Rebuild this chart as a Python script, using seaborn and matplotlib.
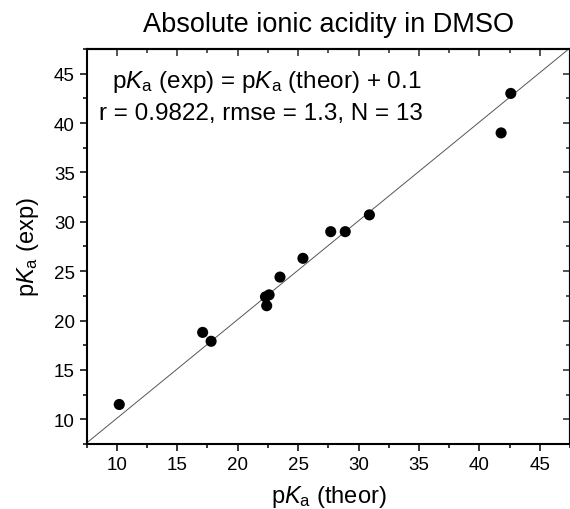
import numpy as np
import matplotlib
matplotlib.use("Agg")
import matplotlib.pyplot as plt
from matplotlib.ticker import MultipleLocator
import seaborn as sns

# pKa values
pka_theor = [10.2, 17.1, 17.8, 22.3, 22.6, 22.4, 23.5, 25.4, 27.7, 28.9, 30.9, 41.8, 42.6]
pka_exp = [11.5, 18.8, 17.9, 22.4, 22.6, 21.5, 24.4, 26.3, 29.0, 29.0, 30.7, 39.0, 43.0]

# fitted line: pKa(exp) = pKa(theor) + 0.1
fit_slope = 1.0
fit_intercept = 0.1

axis_lim = (7.5, 47.5)
major_ticks = [10, 15, 20, 25, 30, 35, 40, 45]

sns.set_theme(style="ticks")
plt.rcParams["font.family"] = ["Liberation Sans", "DejaVu Sans"]
plt.rcParams["mathtext.fontset"] = "custom"
plt.rcParams["mathtext.rm"] = "Liberation Sans"
plt.rcParams["mathtext.it"] = "Liberation Sans:italic"
plt.rcParams["text.color"] = "black"
plt.rcParams["axes.labelcolor"] = "black"

fig = plt.figure(figsize=(5.7, 5.1), dpi=100)
ax = fig.add_axes([0.152, 0.1275, 0.848, 0.7745])

# fit line across the whole frame
fx = np.array(axis_lim)
ax.plot(fx, fit_slope * fx + fit_intercept, color="#555555", lw=0.7, zorder=1)

sns.scatterplot(x=pka_theor, y=pka_exp, ax=ax, color="black", s=64,
                edgecolor="none", zorder=3)

ax.set_xlim(axis_lim)
ax.set_ylim(axis_lim)
ax.set_xticks(major_ticks)
ax.set_yticks(major_ticks)
ax.xaxis.set_minor_locator(MultipleLocator(2.5))
ax.yaxis.set_minor_locator(MultipleLocator(2.5))
ax.tick_params(which="major", direction="out", length=5, width=1.1,
               labelsize=13.5, colors="black", pad=3.5)
ax.tick_params(which="minor", direction="out", length=3, width=1.1, colors="black")

for sp in ax.spines.values():
    sp.set_linewidth(1.5)
    sp.set_color("black")
    sp.set_visible(True)

# mirrored ticks on top and right, pointing inward
top = ax.secondary_xaxis("top")
right = ax.secondary_yaxis("right")
for sec in (top, right):
    sec.set_ticks(major_ticks)
    sec.tick_params(which="major", direction="in", length=5, width=1.1, labelsize=0)
    sec.tick_params(which="minor", direction="in", length=3, width=1.1)
top.xaxis.set_minor_locator(MultipleLocator(2.5))
right.yaxis.set_minor_locator(MultipleLocator(2.5))
top.set_xticklabels([])
right.set_yticklabels([])
top.spines["top"].set_linewidth(1.5)
right.spines["right"].set_linewidth(1.5)

ax.set_xlabel(r"p$\mathit{K}_\mathrm{a}$ (theor)", fontsize=17, labelpad=7)
ax.set_ylabel(r"p$\mathit{K}_\mathrm{a}$ (exp)", fontsize=17, labelpad=9)

fig.text(0.576, 0.937, "Absolute ionic acidity in DMSO", ha="center",
         va="baseline", fontsize=19.5)
fig.text(0.468, 0.8275, r"p$\mathit{K}_\mathrm{a}$ (exp) = p$\mathit{K}_\mathrm{a}$ (theor) + 0.1",
         ha="center", va="baseline", fontsize=17.5)
fig.text(0.457, 0.7647, "r = 0.9822, rmse = 1.3, N = 13",
         ha="center", va="baseline", fontsize=17.5)

fig.savefig("out.png", dpi=100)
